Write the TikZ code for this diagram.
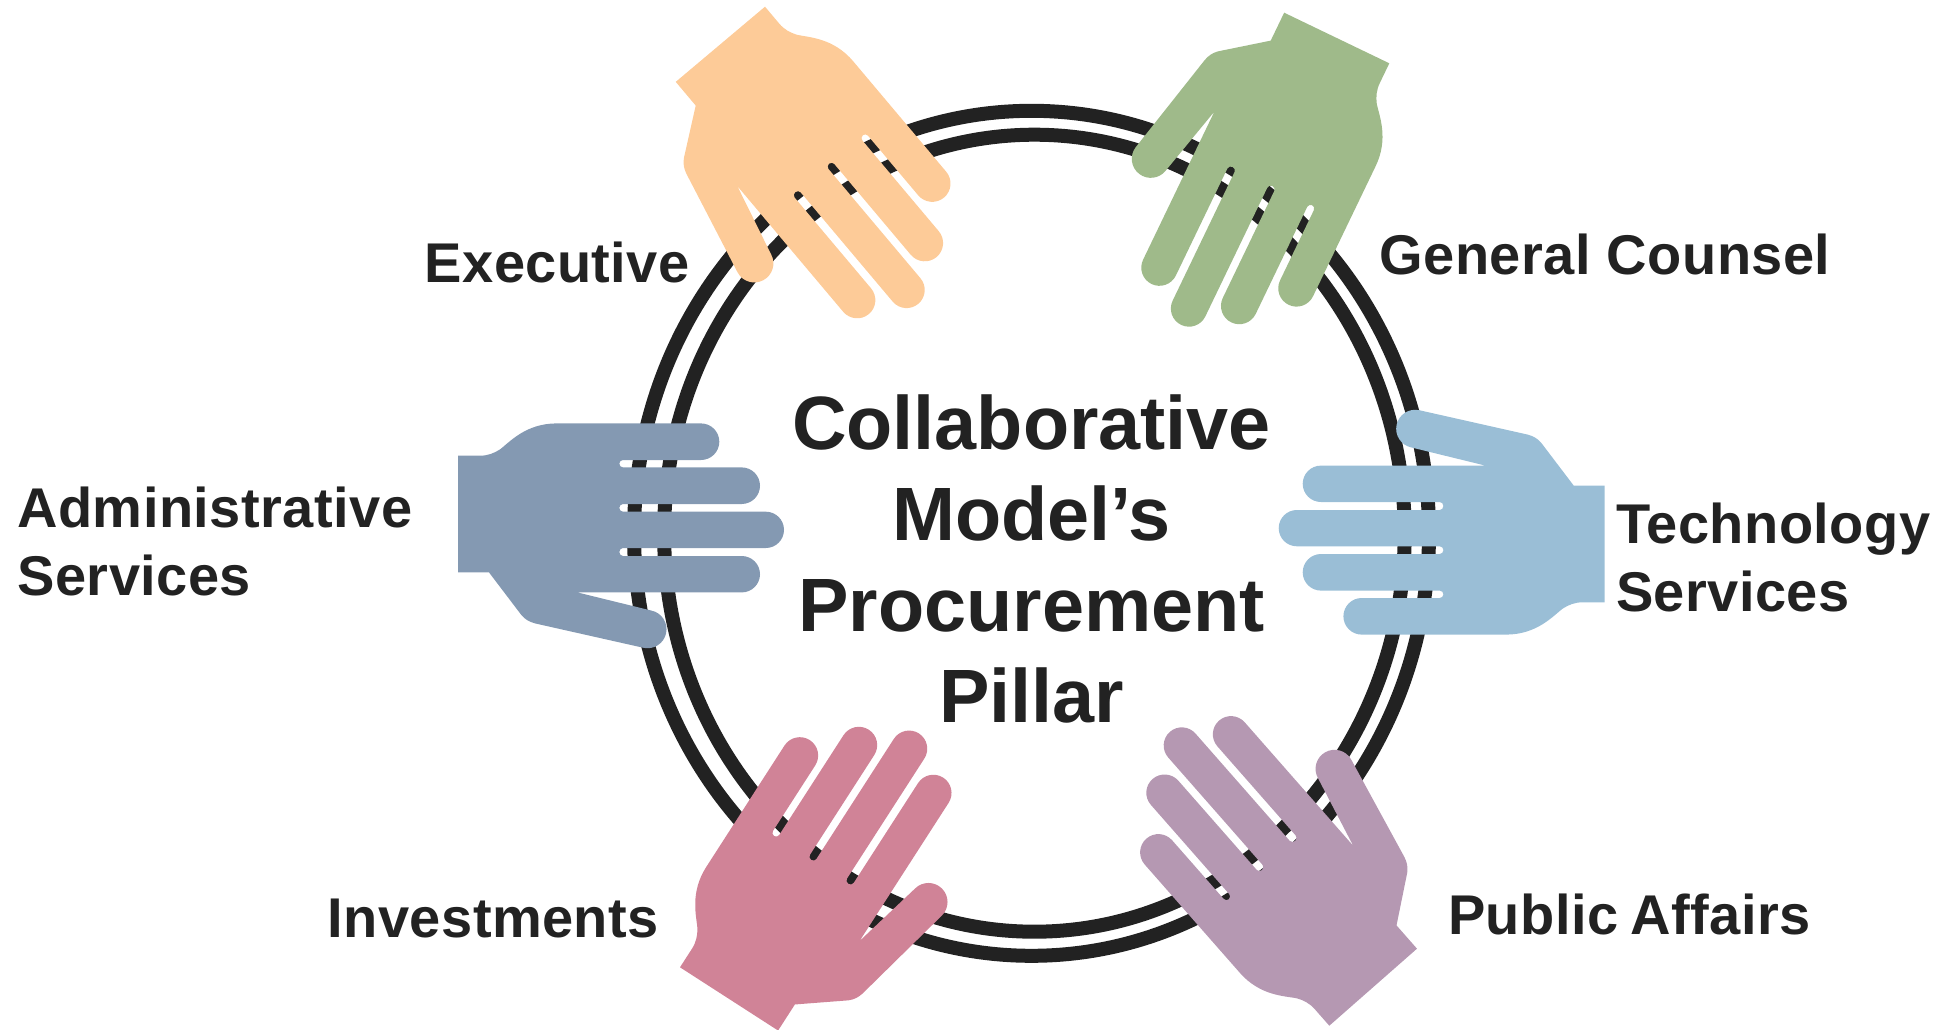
\documentclass[tikz,border=0pt]{standalone}
\usepackage{fontspec}
\setmainfont{Liberation Sans}[BoldFont={Liberation Sans Bold}]
\newfontfamily\lblfont{Liberation Sans Bold}[LetterSpace=0.8]
\definecolor{ringc}{HTML}{222222}
\definecolor{cexec}{HTML}{FDCB98}
\definecolor{cgen}{HTML}{9FBA8A}
\definecolor{cadm}{HTML}{8499B2}
\definecolor{ctec}{HTML}{9ABED6}
\definecolor{cinv}{HTML}{D08397}
\definecolor{cpub}{HTML}{B598B2}
\tikzset{
  ringline/.style={draw=ringc,line width=14pt},
  centretext/.style={font=\fontsize{75.6}{91}\selectfont\bfseries,text=ringc,align=center,inner sep=0pt},
  label/.style={font=\fontsize{56}{68}\selectfont\lblfont,text=ringc,align=left,inner sep=0pt},
  pics/hand/.style={code={
    \path[pic actions] (0,0) -- (22,0) .. controls (30,0) and (36,-2.5) .. (42,-6.3)
      .. controls (52,-14) and (68,-32.3) .. (98.7,-32.3) -- (243,-32.3)
      .. controls (253.1,-32.3) and (261.3,-24.1) .. (261.3,-14)
      .. controls (261.3,-3.9) and (253.1,4.3) .. (243,4.3)
      -- (165,4.3) .. controls (163,4.3) and (161.3,6) .. (161.3,8)
      .. controls (161.3,10) and (163,11.7) .. (165,11.7)
      -- (283.7,11.7) .. controls (293.8,11.7) and (302,19.9) .. (302,30)
      .. controls (302,40.1) and (293.8,48.3) .. (283.7,48.3)
      -- (165,48.3) .. controls (163,48.3) and (161.3,50) .. (161.3,52.15)
      .. controls (161.3,54.3) and (163,56) .. (165,56)
      -- (307.8,56) .. controls (317.9,56) and (326,64.1) .. (326,74.15)
      .. controls (326,84.2) and (317.9,92.3) .. (307.8,92.3)
      -- (165,92.3) .. controls (163,92.3) and (161.3,94.2) .. (161.3,96.3)
      .. controls (161.3,98.4) and (163,100.3) .. (165,100.3)
      -- (283.7,100.3) .. controls (293.8,100.3) and (302,108.4) .. (302,118.5)
      .. controls (302,128.6) and (293.8,136.7) .. (283.7,136.7)
      -- (119.3,136.7) -- (193.5,154.9)
      .. controls (203.8,157.1) and (210.3,167.2) .. (208.1,177.5)
      .. controls (205.9,187.8) and (195.8,194.3) .. (185.5,192.1)
      -- (77,167.7) .. controls (71,166) and (67.5,164) .. (63.5,159.5)
      -- (31,116.7) -- (0,116.7) -- cycle;
  }}
}
\begin{document}
\begin{tikzpicture}[x=1pt,y=-1pt]
\useasboundingbox (0,0) rectangle (1940,1030);
\draw[ringline] (1031.5,533.3) ellipse [x radius=397.5pt,y radius=422.5pt];
\draw[ringline] (1034.4,533.2) ellipse [x radius=370.3pt,y radius=398.5pt];
\path (765,6.7) pic[rotate=-49.9,fill=cexec] {hand};
\path (1389.3,63.3) pic[rotate=-115.7,fill=cgen] {hand};
\path (458,455.7) pic[fill=cadm] {hand};
\path (1604.7,602.3) pic[rotate=180,fill=ctec] {hand};
\path (680,967.3) pic[rotate=57.2,fill=cinv] {hand};
\path (1329.3,1025.7) pic[rotate=-228.7,fill=cpub] {hand};
\node[centretext,anchor=north] (centre) at (1031.5,394.5) {Collaborative\\Model’s\\Procurement\\Pillar};
\node[label,anchor=base west] (exec) at (424.5,282) {Executive};
\node[label,anchor=base west] (gen) at (1379.5,274) {General Counsel};
\node[label,anchor=north west] (adm) at (17.3,487) {Administrative\\Services};
\node[label,anchor=north west] (tec) at (1616,503) {Technology\\Services};
\node[label,anchor=base west] (inv) at (327.5,937.5) {Investments};
\node[label,anchor=base west] (pub) at (1448,934) {Public\kern-4pt\ Affairs};
\end{tikzpicture}
\end{document}
